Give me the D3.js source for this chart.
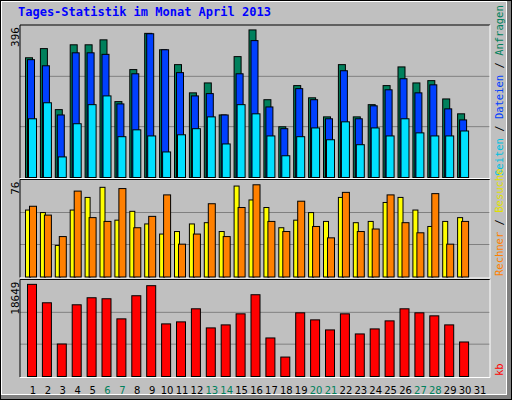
<!DOCTYPE html>
<html>
<head>
<meta charset="utf-8">
<script src="https://cdn.jsdelivr.net/npm/d3@7"></script>
<style>body{margin:0;background:#fff}</style>
</head>
<body>
<div id="chart"></div>
<script>
const days = d3.range(1, 32);
const weekend = [6, 7, 13, 14, 20, 21, 27, 28];
// Anfragen / Dateien / Seiten (day 1..30)
const hits = [314,338,178,348,348,361,199,283,378,335,296,222,248,164,317,387,204,133,241,209,159,296,159,191,241,290,248,254,206,167];
const files = [309,293,164,327,327,323,193,272,377,335,275,214,220,164,272,359,185,128,233,204,154,280,154,188,230,259,222,243,180,151];
const pages = [154,196,54,141,191,214,107,125,109,67,112,128,159,88,191,167,109,57,107,130,99,146,86,130,109,154,117,109,109,122];
// Besuche / Rechner
const visits = [53,51,25,53,63,71,45,52,42,34,36,42,43,36,72,61,55,39,45,51,44,63,43,44,59,63,53,40,44,47];
const sites = [56,49,32,68,47,44,70,39,48,65,26,34,58,32,55,73,44,36,60,40,31,67,36,38,65,43,35,66,26,44];
// kb
const kbytes = [17996,14397,6348,14004,15378,15182,11256,15771,17734,10274,10667,13219,9489,10078,12237,15967,7526,3796,12434,11059,9096,12237,8311,9292,10863,13219,12434,11845,10078,6740];
const maxTop = 396, maxMid = 76, maxKb = 18649;

const W = 512, H = 400;
const svg = d3.select('#chart').append('svg').attr('width', W).attr('height', H)
  .style('font-family', '"DejaVu Sans Mono", monospace');

// frame
svg.append('rect').attr('x', 0).attr('y', 0).attr('width', W).attr('height', H).attr('fill', '#000');
svg.append('rect').attr('x', 1).attr('y', 1).attr('width', W - 2).attr('height', H - 2).attr('fill', '#808080');
svg.append('rect').attr('x', 1).attr('y', 1).attr('width', W - 6).attr('height', H - 6).attr('fill', '#fff');
svg.append('rect').attr('x', 2).attr('y', 2).attr('width', W - 8).attr('height', H - 8).attr('fill', '#C0C0C0');

svg.append('text').attr('x', 18).attr('y', 16).attr('fill', '#0000FF')
  .style('font-weight', 'bold').style('font-size', '12px')
  .text('Tages-Statistik im Monat April 2013');

const x = d3.scaleLinear().domain([1, 31]).range([33, 480]);
const L = 20, R = 490;

const panels = [
  { top: 26, base: 177, max: maxTop, label: '396' },
  { top: 180.5, base: 276.5, max: maxMid, label: '76' },
  { top: 280.5, base: 376, max: maxKb, label: '18649' }
];
panels.forEach(p => {
  p.y = d3.scaleLinear().domain([0, p.max]).range([p.base, p.top]);
  // gridlines at 1/3, 2/3
  [1 / 3, 2 / 3].forEach(f => {
    svg.append('line').attr('x1', L).attr('x2', R).attr('y1', p.y(p.max * f)).attr('y2', p.y(p.max * f))
      .attr('stroke', '#808080').attr('stroke-width', 1);
  });
  svg.append('path').attr('d', `M${L},${p.base + 1}V${p.top - 1}H${R}`).attr('fill', 'none').attr('stroke', '#000');
  svg.append('path').attr('d', `M${L},${p.base + 1.5}H${R}V${p.top - 1}`).attr('fill', 'none').attr('stroke', '#fff');
  svg.append('text').attr('transform', `translate(19,${p.top + 1}) rotate(-90)`)
    .attr('text-anchor', 'end').style('font-size', '11px').text(p.label);
});

function bars(data, p, x0, x1, color) {
  svg.append('g').selectAll('rect').data(data).enter().append('rect')
    .attr('x', (d, i) => x(i + 1) + x0 + 0.5)
    .attr('y', d => p.y(d) + 0.5)
    .attr('width', x1 - x0)
    .attr('height', d => p.base - p.y(d))
    .attr('fill', color).attr('stroke', '#000').attr('stroke-width', 1);
}
bars(hits, panels[0], -8, -1, '#00805C');
bars(files, panels[0], -6, 1, '#0040FF');
bars(pages, panels[0], -5, 3, '#00E0FF');
bars(visits, panels[1], -8, -3, '#FFFF00');
bars(sites, panels[1], -4, 3, '#FF8000');
bars(kbytes, panels[2], -6, 3, '#FF0000');

// day labels
svg.append('g').selectAll('text').data(days).enter().append('text')
  .attr('x', d => x(d)).attr('y', 394).attr('text-anchor', 'middle')
  .style('font-size', '10px').style('font-family', '"DejaVu Sans", sans-serif')
  .attr('fill', d => weekend.includes(d) ? '#00805C' : '#000').text(d => d);

// right legends
function legend(yb, parts) {
  const t = svg.append('text').attr('transform', `translate(503,${yb}) rotate(-90)`)
    .style('font-size', '10.5px');
  parts.forEach(([s, c]) => t.append('tspan').attr('fill', c).text(s));
}
legend(176, [['Seiten', '#00C0E0'], [' / ', '#000'], ['Dateien', '#0040FF'], [' / ', '#000'], ['Anfragen', '#00805C']]);
legend(276, [['Rechner', '#FF8000'], [' / ', '#000'], ['Besuche', '#E0E000']]);
legend(376, [['kb', '#FF0000']]);
</script>
</body>
</html>
